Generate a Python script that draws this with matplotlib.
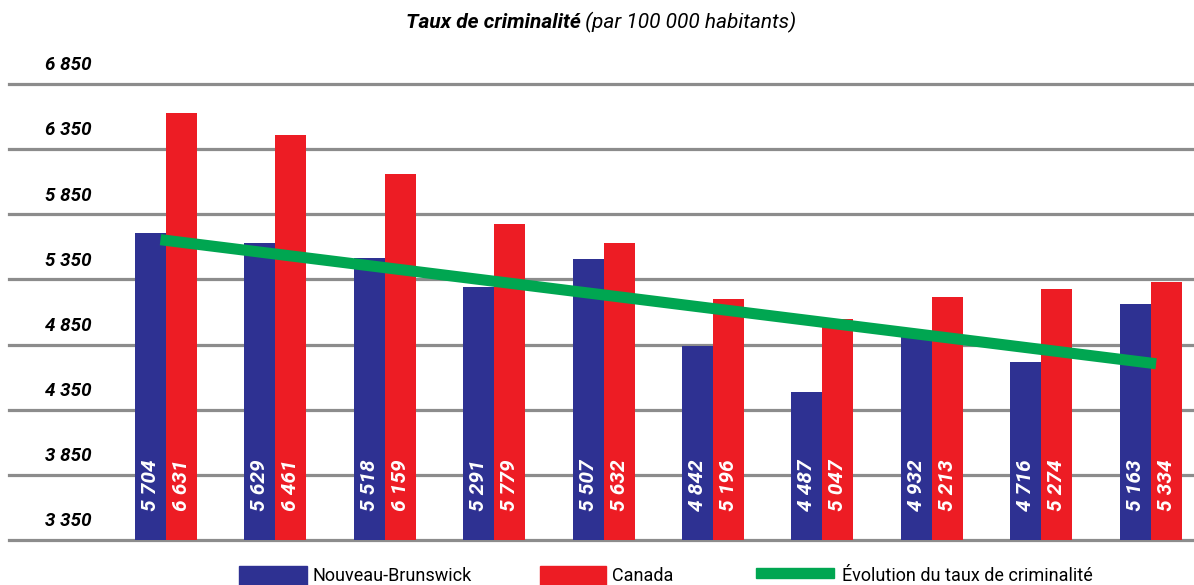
import numpy as np
import matplotlib
matplotlib.use('Agg')
import matplotlib.pyplot as plt
from matplotlib.patches import Rectangle

# data
nb_values = [5704, 5629, 5518, 5291, 5507, 4842, 4487, 4932, 4716, 5163]
ca_values = [6631, 6461, 6159, 5779, 5632, 5196, 5047, 5213, 5274, 5334]
y_ticks = [3350, 3850, 4350, 4850, 5350, 5850, 6350, 6850]
series_names = ['Nouveau-Brunswick', 'Canada', 'Évolution du taux de criminalité']

BLUE = '#2E3192'
RED = '#ED1C24'
GREEN = '#00A651'
GRID = '#8C8C8C'
FONT = ['Roboto', 'DejaVu Sans']

W, H = 1194, 585
fig = plt.figure(figsize=(W / 100, H / 100), dpi=100)
ax = fig.add_axes([9 / W, 1 - 540 / H, 1 - 9 / W, (540 - 84) / H])

x = np.arange(len(nb_values))
bw = 0.283
ax.bar(x - bw / 2, nb_values, bw, color=BLUE, zorder=2)
ax.bar(x + bw / 2, ca_values, bw, color=RED, zorder=2)

# horizontal grid lines
for t in y_ticks:
    ax.axhline(t, color=GRID, lw=2.3, zorder=1, clip_on=False)

# trend line (linear fit of the NB series)
slope, icpt = np.polyfit(x, nb_values, 1)
ax.plot(x, slope * x + icpt, color=GREEN, lw=8, zorder=3,
        solid_capstyle='projecting')

# value labels inside bars
def fmt(v):
    return f'{v:,}'.replace(',', ' ')

for xi, nb, ca in zip(x, nb_values, ca_values):
    for xx, v in ((xi - bw / 2, nb), (xi + bw / 2, ca)):
        ax.annotate(fmt(v), (xx, y_ticks[0]), xytext=(0, 21),
                    textcoords='offset points', rotation=90,
                    ha='center', va='bottom', color='white',
                    fontsize=15, fontweight='bold', fontstyle='italic',
                    family=FONT, zorder=4)

ax.set_xlim(-1.435, 9.397)
ax.set_ylim(y_ticks[0], y_ticks[-1])
ax.set_xticks([])
ax.set_yticks([])
for s in ax.spines.values():
    s.set_visible(False)

# y labels sit above their grid lines
for t in y_ticks:
    ax.annotate(fmt(t), (92 / W, t), xycoords=('figure fraction', 'data'),
                xytext=(0, 7), textcoords='offset points',
                ha='right', va='bottom', fontsize=13.5, fontweight='bold',
                fontstyle='italic', family=FONT)

# title: bold part + italic part, centred together
t1 = fig.text(0, 1 - 22 / H, 'Taux de criminalité', ha='left', va='center',
              fontsize=15, fontweight='bold', fontstyle='italic', family=FONT)
t2 = fig.text(0, 1 - 22 / H, ' (par 100 000 habitants)', ha='left',
              va='center', fontsize=15, fontstyle='italic', family=FONT)
r = fig.canvas.get_renderer()
w1 = t1.get_window_extent(r).width
w2 = t2.get_window_extent(r).width
start = 601 - (w1 + w2) / 2
t1.set_x(start / W)
t2.set_x((start + w1) / W)

# legend drawn by hand at the bottom
legend_items = [(239, 307, 566, 585, BLUE, 313),
                (540, 606, 566, 585, RED, 612),
                (756, 834, 568, 578, GREEN, 842)]
for (x0, x1, y0, y1, c, tx), name in zip(legend_items, series_names):
    fig.add_artist(Rectangle((x0 / W, 1 - y1 / H), (x1 - x0) / W,
                             (y1 - y0) / H, transform=fig.transFigure,
                             color=c))
    fig.text(tx / W, 1 - 576 / H, name, ha='left', va='center',
             fontsize=13, family=FONT)

fig.savefig('out.png', dpi=100)
